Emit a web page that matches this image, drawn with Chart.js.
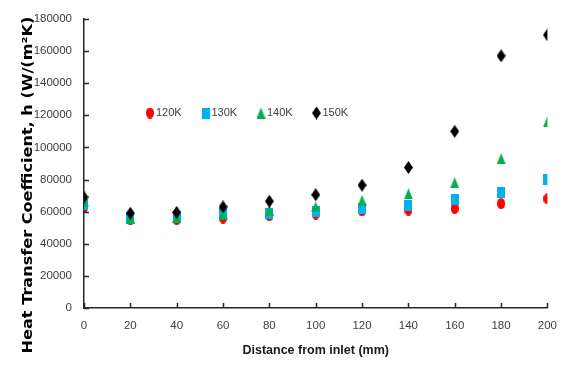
<!DOCTYPE html>
<html>
<head>
<meta charset="utf-8">
<script src="https://cdn.jsdelivr.net/npm/chart.js@4.4.1/dist/chart.umd.min.js"></script>
<style>
  html, body { margin: 0; padding: 0; background: #fff; }
  #wrap { width: 568px; height: 374px; }
</style>
</head>
<body>
<div id="wrap"><canvas id="chart" width="568" height="374"></canvas></div>
<script>
// dados
const distancias = [0, 20, 40, 60, 80, 100, 120, 140, 160, 180, 200];
const h120 = [62500, 55000, 55000, 56000, 57500, 58500, 60500, 61000, 62000, 65000, 68000];
const h130 = [64500, 56500, 57000, 59000, 59000, 60000, 62000, 64000, 67500, 72000, 80000];
const h140 = [66000, 56000, 56500, 58000, 61000, 63000, 67000, 71000, 78000, 93000, 116000];
const h150 = [69000, 59000, 59500, 63000, 66500, 70500, 76500, 87500, 110000, 157000, 170000];
const rotulos = ['120K', '130K', '140K', '150K'];
const tituloX = 'Distance from inlet (mm)';
const tituloY = 'Heat Transfer Coefficient, h (W/(m\u00B2K)';

const fonte = "'Liberation Sans', Arial, sans-serif";

// marcadores desenhados num canvas pequeno (formas um pouco alongadas, como no original)
function criarMarcador(tipo, cor, w, h) {
    const c = document.createElement('canvas');
    c.width = w; c.height = h;
    const g = c.getContext('2d');
    g.fillStyle = cor;
    g.beginPath();
    if (tipo === 'circulo') {
        g.ellipse(w / 2, h / 2, w / 2, h / 2, 0, 0, Math.PI * 2);
    } else if (tipo === 'quadrado') {
        g.rect(0, 0, w, h);
    } else if (tipo === 'triangulo') {
        g.moveTo(w / 2, 0); g.lineTo(w, h); g.lineTo(0, h);
    } else {
        g.moveTo(w / 2, 0); g.lineTo(w, h / 2); g.lineTo(w / 2, h); g.lineTo(0, h / 2);
    }
    g.closePath();
    g.fill();
    return c;
}

const marcadores = [
    criarMarcador('circulo', '#FF0000', 8, 11),
    criarMarcador('quadrado', '#00B0F0', 8, 11),
    criarMarcador('triangulo', '#00B050', 9, 11),
    criarMarcador('losango', '#000000', 9, 13)
];

const series = [h120, h130, h140, h150];

const datasets = series.map((valores, i) => ({
    label: rotulos[i],
    data: distancias.map((d, j) => ({ x: d, y: valores[j] })),
    pointStyle: marcadores[i],
    showLine: false,
    order: 4 - i
}));

// marcas dos eixos para dentro + legenda interna + título do eixo Y
const pluginExtras = {
    id: 'extras',
    afterDraw(chart) {
        const ctx = chart.ctx;
        const { x, y } = chart.scales;
        ctx.save();
        ctx.strokeStyle = '#262626';
        ctx.lineWidth = 1.5;
        ctx.beginPath();
        x.ticks.forEach(t => {
            const px = Math.round(x.getPixelForValue(t.value)) + 0.5;
            ctx.moveTo(px, y.bottom);
            ctx.lineTo(px, y.bottom - 5);
        });
        y.ticks.forEach(t => {
            const py = Math.round(y.getPixelForValue(t.value)) + 0.5;
            ctx.moveTo(x.left, py);
            ctx.lineTo(x.left + 5, py);
        });
        ctx.stroke();

        // legenda
        ctx.font = '11px ' + fonte;
        ctx.fillStyle = '#404040';
        ctx.textBaseline = 'middle';
        ctx.textAlign = 'left';
        rotulos.forEach((r, i) => {
            const mx = 150 + i * 55.5;
            const my = 113;
            const img = marcadores[i];
            ctx.drawImage(img, mx - img.width / 2, my - img.height / 2);
            ctx.fillText(r, mx + 6, my);
        });

        // título do eixo Y
        ctx.translate(28, 185);
        ctx.rotate(-Math.PI / 2);
        ctx.scale(1.15, 1);
        ctx.font = 'bold 14px "DejaVu Sans", sans-serif';
        ctx.fillStyle = '#000';
        ctx.textAlign = 'center';
        ctx.fillText(tituloY, 0, 0);
        ctx.restore();
    }
};

new Chart(document.getElementById('chart'), {
    type: 'scatter',
    data: { datasets },
    options: {
        responsive: false,
        animation: false,
        layout: { padding: { top: 16, right: 16, left: 0, bottom: 0 } },
        plugins: {
            legend: { display: false },
            tooltip: { enabled: false }
        },
        elements: { point: { radius: 5, hoverRadius: 5 } },
        scales: {
            x: {
                type: 'linear',
                min: 0,
                max: 200,
                ticks: {
                    stepSize: 20,
                    padding: 11,
                    color: '#404040',
                    font: { family: fonte, size: 11.5 }
                },
                grid: { display: false, drawTicks: false },
                border: { display: true, color: '#262626', width: 1.5 },
                title: {
                    display: true,
                    text: tituloX,
                    color: '#1a1a1a',
                    font: { family: fonte, size: 12.5, weight: 'bold' },
                    padding: { top: 0, bottom: 16 }
                },
                afterFit(s) { s.height = 66; }
            },
            y: {
                type: 'linear',
                min: 0,
                max: 180000,
                ticks: {
                    stepSize: 20000,
                    padding: 12,
                    color: '#404040',
                    font: { family: fonte, size: 11.5 },
                    callback: v => String(v)
                },
                grid: { display: false, drawTicks: false },
                border: { display: true, color: '#262626', width: 1.5 },
                afterFit(s) { s.width = 84; }
            }
        }
    },
    plugins: [pluginExtras]
});
</script>
</body>
</html>
